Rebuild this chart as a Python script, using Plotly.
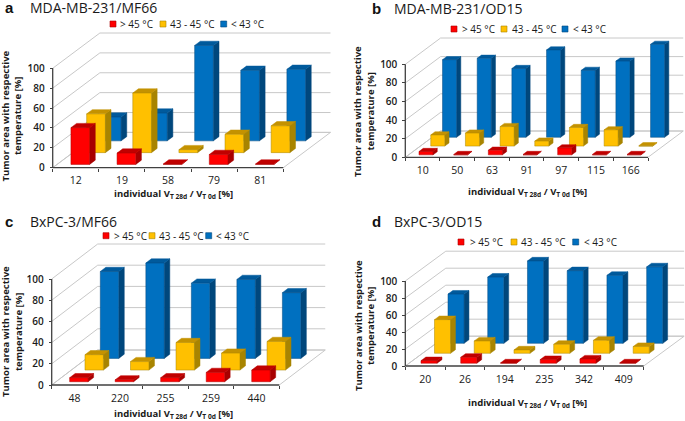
import plotly.graph_objects as go

W, H = 685, 421

# ---------- data (percent of tumor area) ----------
cats_a = ["12", "19", "58", "79", "81"]
hot_a = [37, 11.4, 0.4, 10, 0.4]
mid_a = [39, 60, 3, 18.5, 27]
low_a = [24, 28, 96, 71, 72]

cats_b = ["10", "50", "63", "91", "97", "115", "166"]
hot_b = [3.6, 0.4, 5, 0.4, 7.5, 0.4, 0.4]
mid_b = [12, 14, 21, 5.4, 20, 17.5, 0.4]
low_b = [83.5, 85, 74, 94, 72, 82, 100]

cats_c = ["48", "220", "255", "259", "440"]
hot_c = [3.8, 1.8, 3.8, 8.8, 11]
mid_c = [14.5, 8, 26, 16, 27]
low_c = [82, 90, 71, 74.5, 62]

cats_d = ["20", "26", "194", "235", "342", "409"]
hot_d = [3, 7, 0.4, 4.3, 5, 0.4]
mid_d = [39.6, 14.5, 4, 10.6, 15.3, 8]
low_d = [58, 78, 97, 85.5, 80, 90]

series_names = ["> 45 °C", "43 - 45 °C", "< 43 °C"]
y_ticks = [0, 20, 40, 60, 80, 100]
x_title = "individual V<sub>T 28d</sub> / V<sub>T 0d</sub> [%]"
y_title_lines = ["Tumor area with respective", "temperature [%]"]

# (front, side, top) colours per series
colors = [
    ("#ff0000", "#a80000", "#c00000"),
    ("#ffc000", "#a88400", "#c49200"),
    ("#0070c0", "#00477c", "#005a9c"),
]
FONT = "Open Sans"
TXT = "#1a1a1a"

# ---------- panel layout in pixels ----------
panels = [
    dict(letter="a", title="MDA-MB-231/MF66", cats=cats_a, vals=[hot_a, mid_a, low_a],
         x0=52.7, xend=283.3, y0=167.7, y100=68.3, dx=47.2, dy=35.3,
         lx=3, tx=28, ty=7, legy=24, sw=[110, 160, 220.7], lt=[118, 168, 229],
         ytx=[5, 17.5], yty=116.5, xtx=174, xty=193.5),
    dict(letter="b", title="MDA-MB-231/OD15", cats=cats_b, vals=[hot_b, mid_b, low_b],
         x0=405.3, xend=648, y0=157.3, y100=64.3, dx=35.3, dy=26.3,
         lx=370, tx=392, ty=9, legy=29, sw=[451, 501, 562], lt=[460, 509.7, 571],
         ytx=[357, 369.5], yty=112, xtx=527, xty=192),
    dict(letter="c", title="BxPC-3/MF66", cats=cats_c, vals=[hot_c, mid_c, low_c],
         x0=51.7, xend=279.3, y0=385, y100=279, dx=46, dy=35,
         lx=3, tx=28, ty=221, legy=235.7, sw=[103, 149, 205.7], lt=[111.7, 157, 214],
         ytx=[5, 18], yty=332, xtx=173, xty=414),
    dict(letter="d", title="BxPC-3/OD15", cats=cats_d, vals=[hot_d, mid_d, low_d],
         x0=405.3, xend=643.7, y0=366, y100=281, dx=40.5, dy=29.8,
         lx=370, tx=392, ty=221, legy=242, sw=[458, 511, 572.7], lt=[468, 518.7, 582],
         ytx=[358, 370], yty=326, xtx=527, xty=403),
]

fig = go.Figure()
shapes, annotations = [], []
layout_axes = {}
PAD = 2   # pixels of room left of, below and above each plot area
RPAD = 0.5  # pixels of room to the right


def px(v):
    return v / W


def py(v):
    return 1 - v / H


for i, p in enumerate(panels):
    n = len(p["cats"])
    u = (p["xend"] - p["x0"]) / n
    s = (p["y0"] - p["y100"]) / 100
    kx = p["dx"] / 3 / u
    ky = p["dy"] / 3 / s
    ax = "" if i == 0 else str(i + 1)
    xa, ya = f"x{ax}", f"y{ax}"

    def pr(x, y, z):
        return x + z * kx, y + z * ky

    def draw_line(points, color, width):
        xs, ys = [], []
        for q in points:
            if q is None:
                xs.append(None); ys.append(None)
            else:
                a, b = pr(*q)
                xs.append(a); ys.append(b)
        fig.add_trace(go.Scatter(x=xs, y=ys, mode="lines", xaxis=xa, yaxis=ya,
                                 line=dict(color=color, width=width), hoverinfo="skip",
                                 showlegend=False))

    # walls and floor
    pts = []
    for v in y_ticks:
        pts += [(0, v, 0), (0, v, 3), (n, v, 3), None]
    pts += [(0, 0, 0), (0, 0, 3), (n, 0, 3), (n, 0, 0), None]
    draw_line(pts, "#c8c8c8", 1)

    # boxes, back series first
    for k in (2, 1, 0):
        front = {"x": [], "y": []}
        side = {"x": [], "y": []}
        top = {"x": [], "y": []}
        z0, z1 = k + 0.28, k + 0.64
        for c, v in enumerate(p["vals"][k]):
            a, b = c + 0.30, c + 0.705
            for face, corners in (
                (front, [(a, 0, z0), (b, 0, z0), (b, v, z0), (a, v, z0)]),
                (side, [(b, 0, z0), (b, 0, z1), (b, v, z1), (b, v, z0)]),
                (top, [(a, v, z0), (b, v, z0), (b, v, z1), (a, v, z1)]),
            ):
                for q in corners + [corners[0]]:
                    qx, qy = pr(*q)
                    face["x"].append(qx); face["y"].append(qy)
                face["x"].append(None); face["y"].append(None)
        for face, col in zip((side, top, front), (colors[k][1], colors[k][2], colors[k][0])):
            edge = colors[k][1] if face is front else col
            fig.add_trace(go.Scatter(x=face["x"], y=face["y"], mode="lines", fill="toself",
                                     fillcolor=col, line=dict(color=edge, width=0.5),
                                     xaxis=xa, yaxis=ya, hoverinfo="skip", showlegend=False))

    # axis lines
    draw_line([(0, 0, 0), (n, 0, 0), None, (0, 0, 0), (0, 100, 0)], "#404040", 1.3)

    layout_axes[f"xaxis{ax}"] = dict(
        domain=[px(p["x0"] - PAD), px(p["xend"] + p["dx"] + RPAD)],
        range=[-PAD / u, n + 3 * kx + RPAD / u],
        anchor="free", position=py(p["y0"]), automargin=False,
        showgrid=False, zeroline=False, showline=False,
        tickmode="array", tickvals=[c + 0.5 for c in range(n)], ticktext=p["cats"],
        ticks="", ticklabelstandoff=5,
        tickfont=dict(family=FONT, size=10.5, color=TXT),
        minor=dict(tickmode="array", tickvals=list(range(n + 1)), ticks="outside",
                   ticklen=3, tickwidth=1.2, tickcolor="#404040", showgrid=False),
    )
    layout_axes[f"yaxis{ax}"] = dict(
        domain=[py(p["y0"] + PAD), py(p["y100"] - p["dy"] - PAD)],
        range=[-PAD / s, 100 + 3 * ky + PAD / s],
        anchor="free", position=px(p["x0"]), automargin=False,
        showgrid=False, zeroline=False, showline=False,
        tickmode="array", tickvals=y_ticks, ticks="outside", ticklen=3, tickwidth=1.2,
        ticklabelstandoff=3,
        tickcolor="#404040", tickfont=dict(family=FONT, size=10, weight=600, color=TXT),
    )

    # headings
    annotations.append(dict(x=px(p["lx"]), y=py(p["ty"]), xref="paper", yref="paper",
                            text=f"<b>{p['letter']}</b>", showarrow=False, xanchor="left",
                            yanchor="middle", font=dict(family="Liberation Sans", size=15, color="#111")))
    annotations.append(dict(x=px(p["tx"]), y=py(p["ty"]), xref="paper", yref="paper",
                            text=p["title"], showarrow=False, xanchor="left", yanchor="middle",
                            font=dict(family=FONT, size=14, color=TXT)))
    # legend
    for k in range(3):
        sx = p["sw"][k]
        ly = p["legy"]
        shapes.append(dict(type="rect", xref="paper", yref="paper", x0=px(sx), x1=px(sx + 6),
                           y0=py(ly + 3), y1=py(ly - 3), fillcolor=colors[k][0],
                           line=dict(color=colors[k][1], width=0.6)))
        annotations.append(dict(x=px(p["lt"][k]), y=py(ly), xref="paper", yref="paper",
                                text=series_names[k], showarrow=False, xanchor="left",
                                yanchor="middle", font=dict(family=FONT, size=10, color=TXT)))
    # axis titles
    annotations.append(dict(x=px(p["xtx"]), y=py(p["xty"]), xref="paper", yref="paper",
                            text=f"<b>{x_title}</b>", showarrow=False, xanchor="center",
                            yanchor="middle", font=dict(family=FONT, size=9.5, color=TXT)))
    for tx_, tt in zip(p["ytx"], y_title_lines):
        annotations.append(dict(x=px(tx_), y=py(p["yty"]), xref="paper",
                                yref="paper", text=f"<b>{tt}</b>", showarrow=False,
                                textangle=-90, xanchor="center", yanchor="middle",
                                font=dict(family=FONT, size=9.5, color=TXT)))

fig.update_layout(width=W, height=H, margin=dict(l=0, r=0, t=0, b=0, autoexpand=False), showlegend=False,
                  plot_bgcolor="white", paper_bgcolor="white", shapes=shapes,
                  annotations=annotations, **layout_axes)
fig.write_html("out.html", config={"displayModeBar": False},
               post_script="document.body.style.margin='0';")
